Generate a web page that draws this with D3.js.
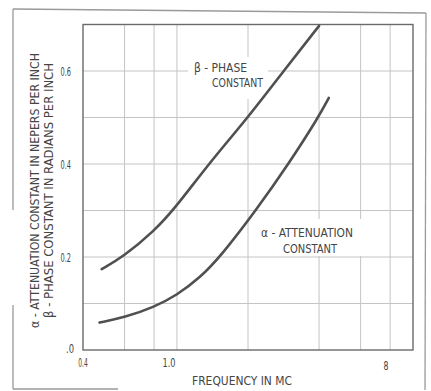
<!DOCTYPE html>
<html><head><meta charset="utf-8">
<script src="https://cdn.jsdelivr.net/npm/d3@7/dist/d3.min.js"></script>
<style>html,body{margin:0;padding:0;background:#fff;} svg{display:block;}</style>
</head><body>
<svg id="c" width="431" height="391"></svg>
<script>
// ---- data ----
const betaFreq = [0.48, 0.59, 0.8, 1.0, 1.36, 2.0, 2.83, 4.0];
const betaVal  = [0.174, 0.2, 0.255, 0.31, 0.4, 0.5, 0.6, 0.697];
const alphaFreq = [0.47, 0.6, 0.8, 1.0, 1.25, 1.54, 2.16, 2.97, 3.97, 4.4];
const alphaVal  = [0.059, 0.07, 0.092, 0.118, 0.155, 0.203, 0.3, 0.4, 0.5, 0.542];
const xGrid = [0.6, 0.8, 1, 2, 4, 6, 8];
const yGrid = [0.1, 0.2, 0.3, 0.4, 0.5, 0.6];
const xTickVals = [0.4, 1, 8];
const xTickLabels = ["0.4", "1.0", "8"];
const yTickVals = [0, 0.2, 0.4, 0.6];
const yTickLabels = [".0", "0.2", "0.4", "0.6"];
const xTitle = "FREQUENCY IN MC";
const yTitle1 = "α - ATTENUATION CONSTANT IN NEPERS PER INCH";
const yTitle2 = "β - PHASE CONSTANT IN RADIANS PER INCH";
const betaLabel = ["β - PHASE", "CONSTANT"];
const alphaLabel = ["α - ATTENUATION", "CONSTANT"];

const svg = d3.select("#c");
const FONT = "'DejaVu Sans Condensed','Liberation Sans Narrow','DejaVu Sans',sans-serif";
const ink = "#454545";

const x = d3.scaleLog().domain([0.4, 10]).range([83, 413]);
const y = d3.scaleLinear().domain([0, 0.7]).range([350, 24.5]);

// outer frame (scanned page border)
const frame = svg.append("g").attr("stroke", "#9a9a9a").attr("stroke-width", 1.3).attr("fill", "none");
frame.append("line").attr("x1", 13).attr("y1", 9).attr("x2", 426).attr("y2", 13);
frame.append("line").attr("x1", 426).attr("y1", 13).attr("x2", 425).attr("y2", 390);
frame.append("line").attr("x1", 13).attr("y1", 9).attr("x2", 13).attr("y2", 210);
frame.append("line").attr("x1", 13).attr("y1", 305).attr("x2", 13).attr("y2", 389);
frame.append("line").attr("x1", 13).attr("y1", 389).attr("x2", 118).attr("y2", 389);

// grid
const grid = svg.append("g").attr("stroke", "#c4c4c4").attr("stroke-width", 1);
grid.selectAll("line.v").data(xGrid).join("line").attr("class", "v")
  .attr("x1", d => x(d)).attr("x2", d => x(d)).attr("y1", y(0.7)).attr("y2", y(0));
grid.selectAll("line.h").data(yGrid).join("line").attr("class", "h")
  .attr("x1", x(0.4)).attr("x2", x(10)).attr("y1", d => y(d)).attr("y2", d => y(d));

// white label boxes
svg.append("rect").attr("x", 188).attr("y", 57).attr("width", 80).attr("height", 42).attr("fill", "#fff");
svg.append("rect").attr("x", 258).attr("y", 219).attr("width", 104).attr("height", 37).attr("fill", "#fff");

// plot border
svg.append("rect").attr("x", x(0.4)).attr("y", y(0.7))
  .attr("width", x(10) - x(0.4)).attr("height", y(0) - y(0.7))
  .attr("fill", "none").attr("stroke", "#6a6a6a").attr("stroke-width", 1.4);

// curves
const line = d3.line().x(d => x(d[0])).y(d => y(d[1])).curve(d3.curveBasis);
const betaData = betaFreq.map((f, i) => [f, betaVal[i]]);
const alphaData = alphaFreq.map((f, i) => [f, alphaVal[i]]);
[betaData, alphaData].forEach(d => {
  svg.append("path").attr("d", line(d)).attr("fill", "none")
    .attr("stroke", "#505050").attr("stroke-width", 2.6).attr("stroke-linecap", "round");
});

function txt(str, xx, yy, len, size, anchor, rot) {
  const t = svg.append("text").text(str)
    .attr("font-family", FONT).attr("font-size", size).attr("fill", ink)
    .attr("text-anchor", anchor || "start");
  if (len) t.attr("textLength", len).attr("lengthAdjust", "spacingAndGlyphs");
  if (rot) t.attr("transform", `translate(${xx},${yy}) rotate(-90)`);
  else t.attr("x", xx).attr("y", yy);
  return t;
}

// y tick labels
yTickVals.forEach((v, i) => {
  if (v === 0) txt(yTickLabels[i], 74, y(v) + 3, 8, 12, "end");
  else txt(yTickLabels[i], 71, y(v) + 5, 10.5, 12, "end");
});
// x tick labels
const xOff = [0, -8, -4];
const xLen = [9.5, 13, 5];
xTickVals.forEach((v, i) => {
  txt(xTickLabels[i], x(v) + xOff[i], 367 + (i === 2 ? 3 : 0), xLen[i], 12, "middle");
});

// titles
txt(xTitle, 242, 385, 100, 13, "middle");
txt(yTitle1, 39, 190.5, 275, 13, "middle", true);
txt(yTitle2, 53, 190.5, 255, 13, "middle", true);

// in-plot labels
txt(betaLabel[0], 194, 72, 53, 13, "start");
txt(betaLabel[1], 212, 87, 51, 13, "start");
txt(alphaLabel[0], 261, 237, 92, 13, "start");
txt(alphaLabel[1], 283, 253, 54, 13, "start");
</script>
</body></html>
